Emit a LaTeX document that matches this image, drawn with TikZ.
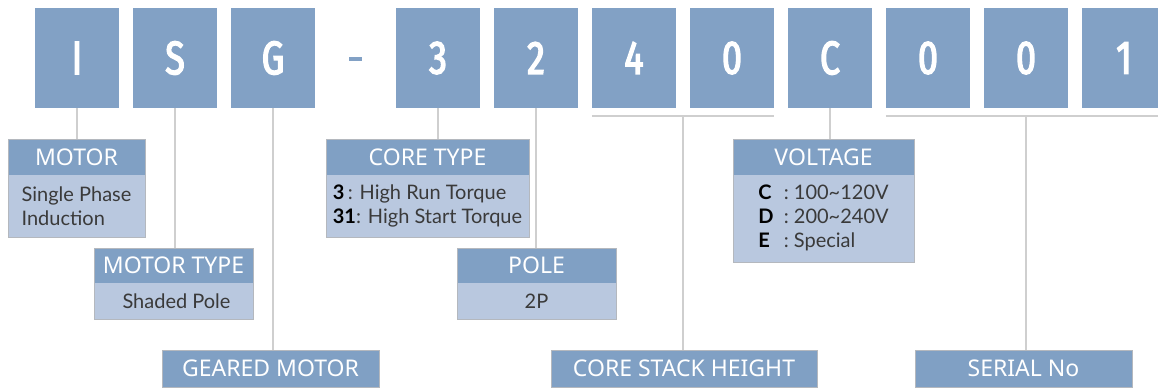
\documentclass[tikz,border=0pt]{standalone}
\usepackage{fontspec}
\setmainfont{Noto Sans}
\newfontfamily\codefont[FakeStretch=0.76,FakeBold=3]{Fira Sans}
\newfontfamily\bodyfont{Lato}
\usetikzlibrary{positioning}
\definecolor{codeblue}{HTML}{82A1C5}
\definecolor{headblue}{HTML}{80A0C4}
\definecolor{bodyblue}{HTML}{B9C8DF}
\definecolor{rimgray}{HTML}{B4B8BE}
\definecolor{linkgray}{HTML}{CFCFCF}
\definecolor{txtgray}{HTML}{3A3A3A}
\tikzset{
  codebox/.style={fill=codeblue, minimum width=84pt, minimum height=100pt, inner sep=0pt,
    text=white, font=\codefont\fontsize{47}{47}\selectfont},
  headbox/.style={fill=headblue, text=white, inner sep=0pt, outer sep=0pt, anchor=north west,
    minimum height=36pt, font=\fontsize{23}{23}\selectfont},
  bodybox/.style={fill=bodyblue, text=txtgray, inner sep=0pt, outer sep=0pt, align=left,
    font=\bodyfont\fontsize{20}{24}\selectfont},
  link/.style={linkgray, line width=1.5pt}
}
\begin{document}
\begin{tikzpicture}[x=1pt,y=1pt]
    \useasboundingbox (0,0) rectangle (1158,-388);

    % code letters
    \foreach \c [count=\i] in {I,S,G}
        \node[codebox] (k\i) at ({77+98*(\i-1)},-58) {\c};
    \foreach \c [count=\i from 4] in {3,2,4,0,C,0,0,1}
        \node[codebox] (k\i) at ({438+98*(\i-4)},-58) {\c};
    \node[fill=codeblue, minimum width=13pt, minimum height=4pt, inner sep=0pt] (dash) at (355,-59) {};

    % boxes with a body
    \node[headbox, minimum width=137pt] (motor) at (8,-139) {MOTOR};
    \node[bodybox, minimum width=137pt, minimum height=62pt, below=0pt of motor] (motorb) {Single Phase\\Induction};
    \node[headbox, minimum width=159pt, minimum height=35pt] (mtype) at (94,-248) {MOTOR TYPE};
    \node[bodybox, minimum width=159pt, minimum height=36pt, below=0pt of mtype] (mtypeb) {\hspace{6pt}Shaded Pole};
    \node[headbox, minimum width=203pt] (ctype) at (326,-139) {CORE TYPE};
    \node[bodybox, minimum width=203pt, minimum height=62pt, below=0pt of ctype] (ctypeb)
        {\textcolor{black}{\textbf{3}}\,: High Run Torque\\\textcolor{black}{\textbf{31}}: High Start Torque};
    \node[headbox, minimum width=159pt, minimum height=35pt] (pole) at (457,-248) {POLE};
    \node[bodybox, minimum width=159pt, minimum height=36pt, below=0pt of pole] (poleb) {2P};
    \node[headbox, minimum width=181pt] (volt) at (733,-139) {VOLTAGE};
    \node[bodybox, minimum width=181pt, minimum height=87pt, below=0pt of volt] (voltb)
        {\begin{tabular}{@{}l@{\ \ :\ }l@{}}
         \textcolor{black}{\textbf{C}} & 100\textasciitilde120V\\
         \textcolor{black}{\textbf{D}} & 200\textasciitilde240V\\
         \textcolor{black}{\textbf{E}} & Special
         \end{tabular}};
    \foreach \n in {motor,mtype,ctype,pole,volt}
        \draw[rimgray] (\n.north west) rectangle (\n b.south east);

    % boxes with a title only
    \node[headbox, draw=rimgray, minimum width=217pt, minimum height=37pt] (geared) at (162,-350) {GEARED MOTOR};
    \node[headbox, draw=rimgray, minimum width=266pt, minimum height=37pt] (stack) at (551,-350) {CORE STACK HEIGHT};
    \node[headbox, draw=rimgray, minimum width=217pt, minimum height=37pt] (serial) at (915,-350) {SERIAL No};

    % connectors
    \draw[link] (k1.south) -- (k1.south |- motor.north);
    \draw[link] (k2.south) -- (k2.south |- mtype.north);
    \draw[link] (k3.south) -- (k3.south |- geared.north);
    \draw[link] (k4.south) -- (k4.south |- ctype.north);
    \draw[link] (k5.south) -- (k5.south |- pole.north);
    \draw[link] (k8.south) -- (k8.south |- volt.north);
    \draw[link] ([yshift=-8pt]k6.south west) -- coordinate (m1) ([yshift=-8pt]k7.south east);
    \draw[link] (m1) -- (m1 |- stack.north);
    \draw[link] ([yshift=-8pt]k9.south west) -- coordinate (m2) ([yshift=-8pt]k11.south east);
    \draw[link] (m2) -- (m2 |- serial.north);
\end{tikzpicture}
\end{document}
